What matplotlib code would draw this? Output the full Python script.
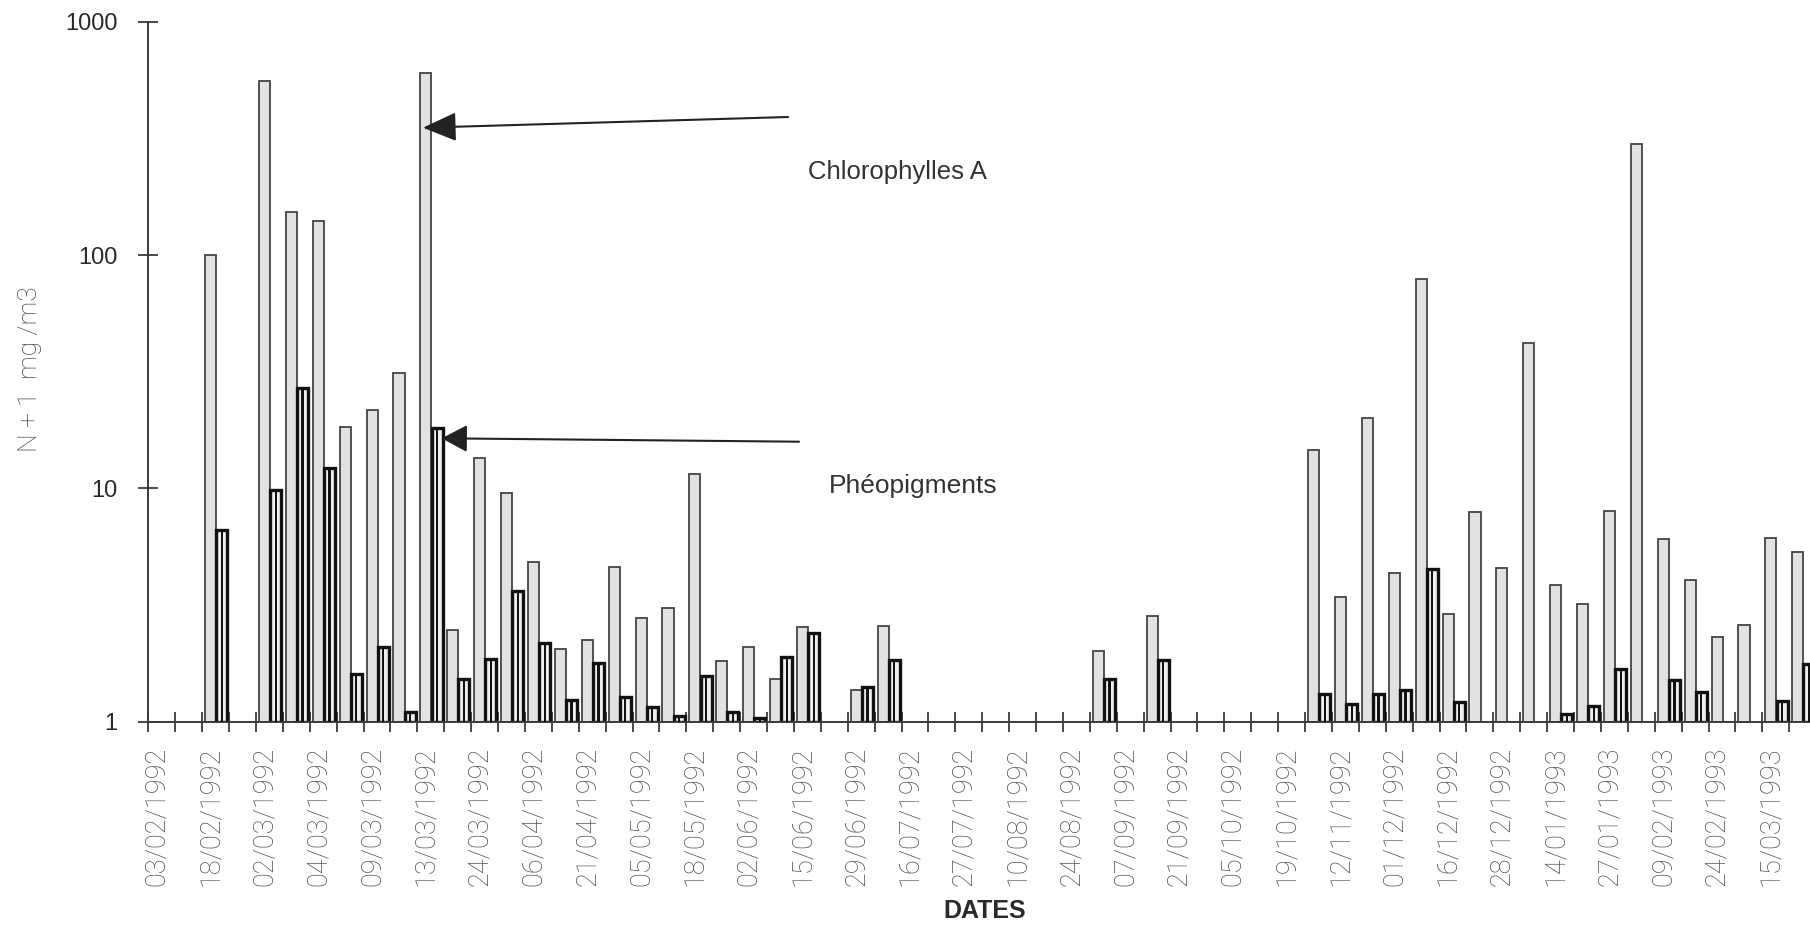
import numpy as np
import matplotlib
matplotlib.use("Agg")
import matplotlib.pyplot as plt
from matplotlib.transforms import ScaledTranslation

# ---- data (N + 1, mg/m3) ----
date_labels = ["03/02/1992", "18/02/1992", "02/03/1992", "04/03/1992", "09/03/1992",
               "13/03/1992", "24/03/1992", "06/04/1992", "21/04/1992", "05/05/1992",
               "18/05/1992", "02/06/1992", "15/06/1992", "29/06/1992", "16/07/1992",
               "27/07/1992", "10/08/1992", "24/08/1992", "07/09/1992", "21/09/1992",
               "05/10/1992", "19/10/1992", "12/11/1992", "01/12/1992", "16/12/1992",
               "28/12/1992", "14/01/1993", "27/01/1993", "09/02/1993", "24/02/1993",
               "15/03/1993"]

chloro_a = [1, 1, 100, 1, 557, 153, 140, 18.4, 21.7, 31.1,
            600, 2.47, 13.5, 9.6, 4.82, 2.05, 2.24, 4.6, 2.77, 3.06,
            11.5, 1.82, 2.1, 1.52, 2.54, 1, 1.37, 2.57, 1, 1,
            1, 1, 1, 1, 1, 2.01, 1, 2.84, 1, 1,
            1, 1, 1, 14.6, 3.43, 20, 4.33, 79, 2.9, 7.9,
            4.55, 42, 3.85, 3.2, 7.97, 300, 6.07, 4.06, 2.31, 2.6,
            6.14, 5.36]

pheo = [1, 1, 6.6, 1, 9.8, 26.9, 12.2, 1.6, 2.1, 1.1,
        18.2, 1.53, 1.86, 3.64, 2.17, 1.24, 1.78, 1.28, 1.16, 1.06,
        1.57, 1.1, 1.04, 1.9, 2.39, 1, 1.41, 1.84, 1, 1,
        1, 1, 1, 1, 1, 1.53, 1, 1.84, 1, 1,
        1, 1, 1, 1.31, 1.19, 1.31, 1.37, 4.5, 1.22, 1,
        1, 1, 1.08, 1.17, 1.68, 1, 1.51, 1.34, 1, 1,
        1.23, 1.76]

# one label every other sampling date (the others are unlabelled)
categories = []
for lab in date_labels:
    categories += [lab, ""]
categories = categories[:len(chloro_a)]

plt.rcParams['font.family'] = ['Liberation Sans', 'DejaVu Sans']

W, H = 1810, 926
fig = plt.figure(figsize=(W / 100, H / 100), dpi=100)
left_px, bottom_px, top_px = 148.3, 721.7, 21.7
ax = fig.add_axes([left_px / W, 1 - bottom_px / H, 1 - left_px / W, (bottom_px - top_px) / H])

n = len(chloro_a)
idx = np.arange(n)
ca = np.array(chloro_a, dtype=float)
ph = np.array(pheo, dtype=float)
bw = 0.41

m1 = ca > 1
ax.bar(idx[m1] + 0.32, ca[m1] - 1, bottom=1, width=bw, facecolor='#e2e2e2',
       edgecolor='#444444', linewidth=1.3, zorder=2)
m2 = ph > 1
ax.bar(idx[m2] + 0.735, ph[m2] - 1, bottom=1, width=bw, facecolor='#efefef',
       edgecolor='#111111', linewidth=2.4, zorder=2)
ax.bar(idx[m2] + 0.735, ph[m2] - 1, bottom=1, width=0.08, facecolor='#111111',
       edgecolor='none', zorder=3)

ax.set_yscale('log')
ax.set_ylim(1, 1000)
ax.set_xlim(0, (W - left_px) / 26.9)

for s in ['top', 'right']:
    ax.spines[s].set_visible(False)
for s in ['left', 'bottom']:
    ax.spines[s].set_color('#3a3a3a')
    ax.spines[s].set_linewidth(1.4)

ax.set_yticks([1, 10, 100, 1000])
ax.set_yticklabels(['1', '10', '100', '1000'])
ax.yaxis.set_minor_locator(matplotlib.ticker.NullLocator())
ax.tick_params(axis='y', which='major', direction='inout', length=13.7, width=1.3,
               color='#3a3a3a', labelsize=17, pad=15.5, labelcolor='#2a2a2a')

ax.set_xticks(np.arange(n))
ax.set_xticklabels([])
ax.set_xticks(idx + 0.5, minor=True)
ax.set_xticklabels(categories, minor=True)
ax.tick_params(axis='x', which='major', direction='inout', length=13.7, width=1.3,
               color='#3a3a3a')
ax.tick_params(axis='x', which='minor', length=0, pad=18, labelsize=19.5,
               labelcolor='#4e4e4e')
off = ScaledTranslation(-5 / 100, 0, fig.dpi_scale_trans)
for lab in ax.get_xticklabels(minor=True):
    lab.set_rotation(90)
    lab.set_family(['Roboto', 'DejaVu Sans'])
    lab.set_fontweight('light')
    lab.set_transform(lab.get_transform() + off)

fig.text(30 / W, 1 - 369 / H, 'N + 1  mg /m3', rotation=90, ha='center', va='center',
         fontsize=19, color='#444444', family=['Roboto', 'DejaVu Sans'], fontweight='light')
fig.text(985 / W, 1 - 910.7 / H, 'DATES', ha='center', va='center', fontsize=18,
         fontweight='bold', color='#2a2a2a')

fig.text(808 / W, 1 - 179.3 / H, 'Chlorophylles A', ha='left', va='baseline',
         fontsize=18.5, color='#333333')
fig.text(829 / W, 1 - 493.3 / H, 'Phéopigments', ha='left', va='baseline',
         fontsize=19, color='#333333')

ax.annotate('', xy=(423, H - 127.7), xytext=(788, H - 117), xycoords='figure pixels',
            textcoords='figure pixels',
            arrowprops=dict(arrowstyle='-|>,head_length=1.04,head_width=0.45',
                            mutation_scale=20, lw=1.5, color='#222222',
                            shrinkA=0, shrinkB=0))
ax.annotate('', xy=(441.7, H - 438.3), xytext=(799, H - 441.7), xycoords='figure pixels',
            textcoords='figure pixels',
            arrowprops=dict(arrowstyle='-|>,head_length=0.79,head_width=0.42',
                            mutation_scale=20, lw=1.5, color='#222222',
                            shrinkA=0, shrinkB=0))

fig.savefig('out.png', dpi=100, facecolor='white')
